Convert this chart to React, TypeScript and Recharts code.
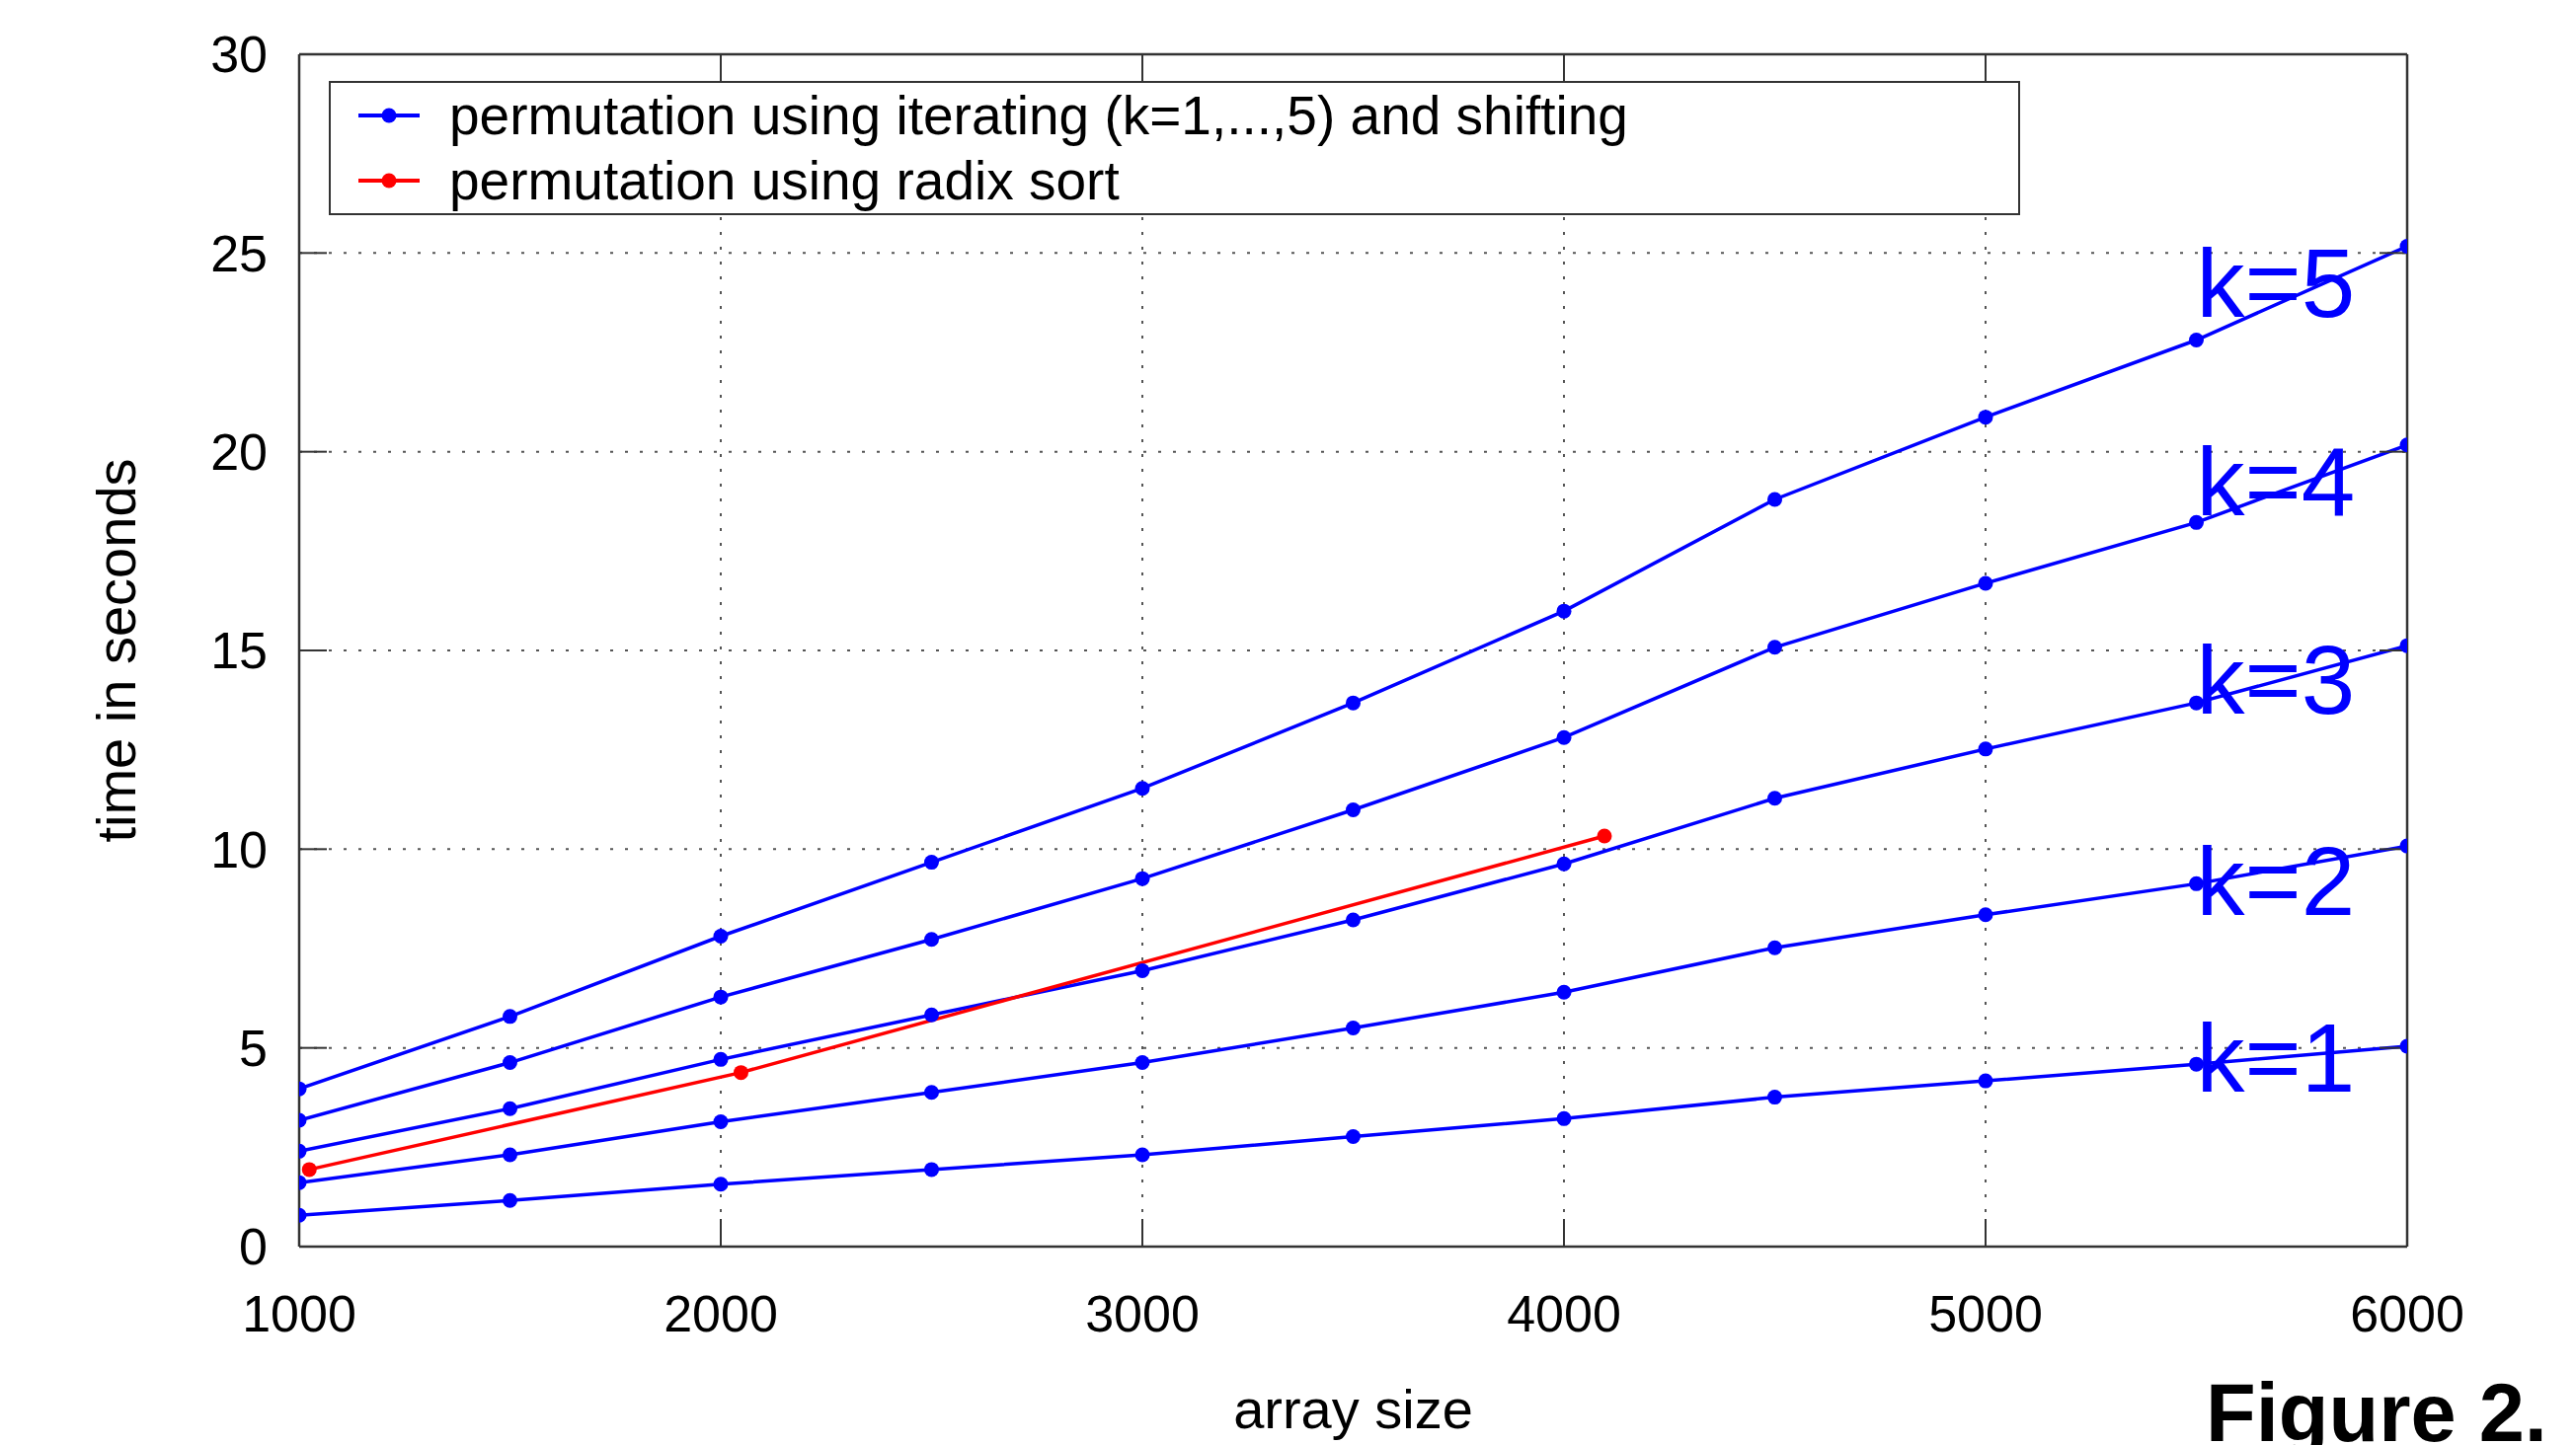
import React from 'react';
import { LineChart, Line, XAxis, YAxis, CartesianGrid, Legend, ReferenceDot, Label } from 'recharts';

const arraySizes = [1000, 1500, 2000, 2500, 3000, 3500, 4000, 4500, 5000, 5500, 6000];
const timesK1 = [0.79, 1.16, 1.57, 1.94, 2.31, 2.77, 3.22, 3.76, 4.17, 4.59, 5.04];
const timesK2 = [1.61, 2.31, 3.14, 3.88, 4.63, 5.5, 6.4, 7.52, 8.35, 9.13, 10.08];
const timesK3 = [2.4, 3.47, 4.71, 5.83, 6.94, 8.22, 9.63, 11.28, 12.52, 13.68, 15.12];
const timesK4 = [3.18, 4.63, 6.28, 7.73, 9.26, 10.99, 12.81, 15.08, 16.69, 18.22, 20.17];
const timesK5 = [3.97, 5.79, 7.81, 9.67, 11.53, 13.68, 15.99, 18.8, 20.87, 22.81, 25.17];
const radixSizes = [1024, 2048, 4096];
const radixTimes = [1.94, 4.38, 10.33];
const xTicks = [1000, 2000, 3000, 4000, 5000, 6000];
const yTicks = [0, 5, 10, 15, 20, 25, 30];
const kLabelText = ['k=1', 'k=2', 'k=3', 'k=4', 'k=5'];
const kLabelX = 5500;
const kLabelY = [3.9, 8.35, 13.4, 18.4, 23.4];
const iterName = 'permutation using iterating (k=1,...,5) and shifting';
const radixName = 'permutation using radix sort';

const FONT = '"Liberation Sans", Arial, Helvetica, sans-serif';
const BLUE = '#0000ff';
const RED = '#ff0000';
const FRAME = '#333333';

const kSeries = [timesK1, timesK2, timesK3, timesK4, timesK5].map((arr) =>
  arraySizes.map((x, i) => ({ x, y: arr[i] }))
);
const radixSeries = radixSizes.map((x, i) => ({ x, y: radixTimes[i] }));

const renderLegend = (props: any) => {
  const raw = props.payload || [];
  const seen = new Set<string>();
  const payload = raw.filter((p: any) => {
    if (p.type === 'none' || seen.has(p.value)) return false;
    seen.add(p.value);
    return true;
  });
  return (
    <div
      style={{
        boxSizing: 'border-box',
        width: 1713,
        height: 136,
        border: `2.5px solid ${FRAME}`,
        background: '#fff',
        fontFamily: FONT,
      }}
    >
      {payload.map((p: any, i: number) => (
        <div key={i} style={{ display: 'flex', alignItems: 'center', height: 66 }}>
          <svg width={92} height={66} style={{ marginLeft: 28, flex: 'none' }}>
            <line x1={0} x2={62} y1={33} y2={33} stroke={p.color} strokeWidth={4} />
            <circle cx={31} cy={33} r={7.5} fill={p.color} />
          </svg>
          <span style={{ fontSize: 55, color: '#000', lineHeight: '66px', whiteSpace: 'nowrap' }}>{p.value}</span>
        </div>
      ))}
    </div>
  );
};

const renderXLabel = (props: any) => {
  const vb = props.viewBox;
  return (
    <text x={vb.x + vb.width / 2} y={vb.y + 184} textAnchor="middle" fontSize={56} fontFamily={FONT} fill="#000">
      array size
    </text>
  );
};

const renderYLabel = (props: any) => {
  const vb = props.viewBox;
  const cx = 129;
  const cy = vb.y + vb.height / 2;
  return (
    <text
      x={cx}
      y={cy}
      transform={`rotate(-90 ${cx} ${cy})`}
      textAnchor="middle"
      fontSize={56}
      fontFamily={FONT}
      fill="#000"
    >
      time in seconds
    </text>
  );
};

const makeKShape = (txt: string) => (p: any) => (
  <text x={p.cx} y={p.cy} fill={BLUE} fontSize={98} fontFamily={FONT}>
    {txt}
  </text>
);

export default function App() {
  const tickStyle = { fill: '#000', fontSize: 52, fontFamily: FONT };
  return (
    <div style={{ position: 'relative', width: 2593, height: 1456 }}>
      <LineChart width={2593} height={1456} margin={{ top: 46, right: 162, left: 195, bottom: 101 }}>
        <CartesianGrid xAxisId="b" yAxisId="l" stroke="#555" strokeDasharray="3 12" strokeWidth={2} />
        <XAxis
          xAxisId="b"
          type="number"
          dataKey="x"
          domain={[1000, 6000]}
          ticks={xTicks}
          allowDataOverflow
          interval={0}
          height={100}
          tickSize={-28}
          tickMargin={77}
          axisLine={{ stroke: FRAME, strokeWidth: 2.5 }}
          tickLine={{ stroke: FRAME, strokeWidth: 2 }}
          tick={tickStyle}
        >
          <Label content={renderXLabel} />
        </XAxis>
        <XAxis
          xAxisId="t"
          orientation="top"
          type="number"
          dataKey="x"
          domain={[1000, 6000]}
          ticks={xTicks}
          allowDataOverflow
          interval={0}
          height={1}
          tickSize={-28}
          tickFormatter={() => ''}
          axisLine={{ stroke: FRAME, strokeWidth: 2.5 }}
          tickLine={{ stroke: FRAME, strokeWidth: 2 }}
        />
        <YAxis
          yAxisId="l"
          type="number"
          domain={[0, 30]}
          ticks={yTicks}
          allowDataOverflow
          interval={0}
          width={100}
          tickSize={-28}
          tickMargin={60}
          axisLine={{ stroke: FRAME, strokeWidth: 2.5 }}
          tickLine={{ stroke: FRAME, strokeWidth: 2 }}
          tick={tickStyle}
        >
          <Label content={renderYLabel} />
        </YAxis>
        <YAxis
          yAxisId="r"
          orientation="right"
          type="number"
          domain={[0, 30]}
          ticks={yTicks}
          allowDataOverflow
          interval={0}
          width={1}
          tickSize={-28}
          tickFormatter={() => ''}
          axisLine={{ stroke: FRAME, strokeWidth: 2.5 }}
          tickLine={{ stroke: FRAME, strokeWidth: 2 }}
        />
        {kSeries.map((d, i) => (
          <Line
            key={i}
            xAxisId="b"
            yAxisId="l"
            data={d}
            dataKey="y"
            name={iterName}
            legendType={i === 0 ? 'line' : 'none'}
            type="linear"
            stroke={BLUE}
            strokeWidth={3.5}
            dot={{ r: 7.5, fill: BLUE, stroke: 'none' }}
            activeDot={false}
            isAnimationActive={false}
          />
        ))}
        <Line
          xAxisId="b"
          yAxisId="l"
          data={radixSeries}
          dataKey="y"
          name={radixName}
          type="linear"
          stroke={RED}
          strokeWidth={3.5}
          dot={{ r: 7.5, fill: RED, stroke: 'none' }}
          activeDot={false}
          isAnimationActive={false}
        />
        <Line
          xAxisId="t"
          yAxisId="r"
          data={radixSeries}
          dataKey="y"
          name={radixName}
          legendType="none"
          type="linear"
          stroke="transparent"
          strokeWidth={0}
          dot={false}
          activeDot={false}
          isAnimationActive={false}
        />
        {kLabelText.map((t, i) => (
          <ReferenceDot
            key={t}
            xAxisId="b"
            yAxisId="l"
            x={kLabelX}
            y={kLabelY[i]}
            r={0}
            shape={makeKShape(t)}
          />
        ))}
        <Legend
          layout="vertical"
          align="center"
          verticalAlign="middle"
          wrapperStyle={{ position: 'absolute', left: 325, top: 74, width: 1713, height: 136 }}
          content={renderLegend}
        />
      </LineChart>
      <svg
        width={2593}
        height={1456}
        style={{ position: 'absolute', left: 0, top: 0, pointerEvents: 'none', overflow: 'visible' }}
      >
        <text x={2226} y={1452} fontSize={83} fontWeight="bold" fontFamily={FONT} fill="#000">
          Figure 2.
        </text>
      </svg>
    </div>
  );
}
